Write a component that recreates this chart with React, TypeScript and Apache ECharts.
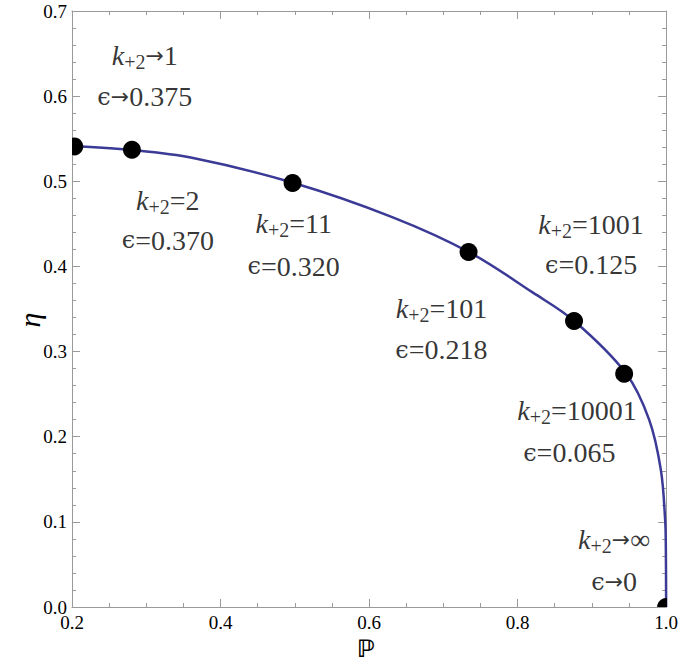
import React, { useEffect, useRef } from "react";
import * as echarts from "echarts";

// Curve (P, eta)
const curveP = [0.2, 0.2803, 0.3631, 0.4976, 0.632, 0.7351, 0.8202, 0.8763, 0.9458, 0.9771, 0.9929, 0.9987, 0.9996, 1.0];
const curveEta = [0.5415, 0.5368, 0.5273, 0.4983, 0.4577, 0.4166, 0.3695, 0.3359, 0.2745, 0.2201, 0.161, 0.102, 0.071, 0.0];

// Marked points
const pointP = [0.203, 0.2807, 0.497, 0.734, 0.876, 0.9435, 1.0];
const pointEta = [0.541, 0.537, 0.498, 0.417, 0.336, 0.274, 0.0];

// Annotation texts: relation sign and value
const kSign = ["→", "=", "=", "=", "=", "=", "→"];
const kValue = ["1", "2", "11", "101", "1001", "10001", "∞"];
const epsSign = ["→", "=", "=", "=", "=", "=", "→"];
const epsValue = ["0.375", "0.370", "0.320", "0.218", "0.125", "0.065", "0"];
// Annotation anchors (data coordinates)
const labelKX = [0.298, 0.329, 0.4985, 0.6975, 0.899, 0.880, 0.930];
const labelKY = [0.648, 0.478, 0.450, 0.351, 0.449, 0.231, 0.0787];
const labelEpsX = [0.298, 0.329, 0.4985, 0.6975, 0.899, 0.8696, 0.930];
const labelEpsY = [0.599, 0.431, 0.4005, 0.302, 0.402, 0.181, 0.0294];

const xTicks = { min: 0.2, max: 1.0, interval: 0.2 };
const yTicks = { min: 0, max: 0.7, interval: 0.1 };

const SERIF = "Liberation Serif";
const AXIS_GREY = "#9a9a9a";
const FS = 28;

export default function App() {
  const ref = useRef<HTMLDivElement>(null);
  useEffect(() => {
    if (!ref.current) return;
    const chart = echarts.init(ref.current, undefined, { renderer: "svg" });

    const axisCommon = (showLabel: boolean, split: number, margin: number) => ({
      type: "value",
      axisLine: { show: true, onZero: false, lineStyle: { color: AXIS_GREY, width: 1 } },
      axisTick: { show: true, inside: true, length: 8, lineStyle: { color: AXIS_GREY } },
      minorTick: { show: true, splitNumber: split, length: 4, lineStyle: { color: AXIS_GREY } },
      splitLine: { show: false },
      axisLabel: {
        show: showLabel,
        fontFamily: SERIF,
        fontSize: 19,
        color: "#000",
        margin,
        formatter: (v: number) => v.toFixed(1),
      },
    });

    const rich = {
      k: { fontFamily: SERIF, fontSize: FS, fontStyle: "italic", color: "#000" },
      s: { fontFamily: SERIF, fontSize: 20, color: "#000", padding: [13, 0, 0, 0] },
      n: { fontFamily: SERIF, fontSize: FS, color: "#000" },
      a: { fontFamily: "DejaVu Sans", fontSize: 22, color: "#000" },
      e: { fontFamily: "DejaVu Serif", fontSize: 24, color: "#000" },
    };
    const sign = (s: string) => (s === "→" ? `{a|→}` : `{n|${s}}`);

    const kData = labelKX.map((x, i) => [x, labelKY[i], i]);
    const eData = labelEpsX.map((x, i) => [x, labelEpsY[i], i]);

    chart.setOption({
      animation: false,
      backgroundColor: "#fff",
      grid: { left: 72, right: 14, top: 11, bottom: 65, containLabel: false },
      xAxis: [
        { ...axisCommon(true, 4, 6), ...xTicks, position: "bottom" },
        { ...axisCommon(false, 4, 6), ...xTicks, position: "top" },
      ],
      yAxis: [
        { ...axisCommon(true, 5, 5), ...yTicks, position: "left" },
        { ...axisCommon(false, 5, 5), ...yTicks, position: "right" },
      ],
      graphic: [
        {
          type: "text",
          x: 29,
          y: 320,
          rotation: Math.PI / 2,
          style: { text: "η", fontFamily: SERIF, fontSize: 30, fontStyle: "italic", fill: "#000", align: "center", verticalAlign: "middle" },
        },
        {
          type: "text",
          x: 366,
          y: 649,
          style: { text: "ℙ", fontFamily: "DejaVu Sans", fontSize: 24, fontWeight: "bold", fill: "#000", align: "center", verticalAlign: "middle" },
        },
      ],
      series: [
        {
          type: "line",
          data: curveP.map((p, i) => [p, curveEta[i]]),
          smooth: 0.35,
          showSymbol: false,
          symbol: "none",
          clip: true,
          lineStyle: { color: "#3b3a96", width: 2.5 },
          z: 2,
        },
        {
          type: "custom",
          clip: true,
          data: pointP.map((p, i) => [p, pointEta[i]]),
          renderItem: (params: any, api: any) => {
            const c = api.coord([api.value(0), api.value(1)]);
            return {
              type: "circle",
              shape: { cx: c[0], cy: c[1], r: 9 },
              style: { fill: "#000" },
            };
          },
          z: 3,
        },
        {
          type: "scatter",
          data: kData,
          symbolSize: 1,
          itemStyle: { color: "rgba(0,0,0,0)" },
          silent: true,
          label: {
            show: true,
            position: "inside",
            formatter: (p: any) => {
              const i = p.value[2];
              return `{k|k}{s|+2}${sign(kSign[i])}{n|${kValue[i]}}`;
            },
            rich,
          },
          z: 4,
        },
        {
          type: "scatter",
          data: eData,
          symbolSize: 1,
          itemStyle: { color: "rgba(0,0,0,0)" },
          silent: true,
          label: {
            show: true,
            position: "inside",
            formatter: (p: any) => {
              const i = p.value[2];
              return `{e|ϵ}${sign(epsSign[i])}{n|${epsValue[i]}}`;
            },
            rich,
          },
          z: 4,
        },
      ],
    });
    return () => chart.dispose();
  }, []);

  return <div ref={ref} style={{ position: "fixed", left: 0, top: 0, width: 681, height: 672 }} />;
}
